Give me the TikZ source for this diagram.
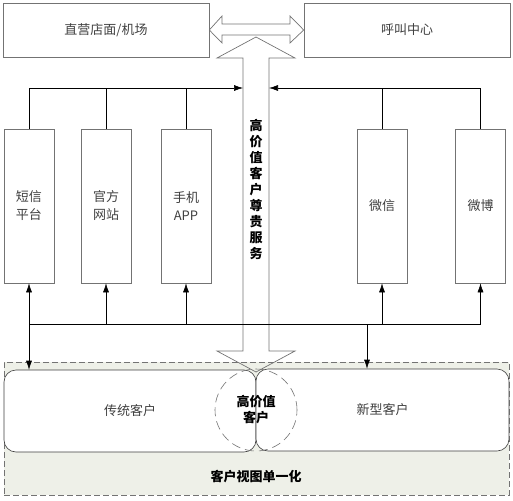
\documentclass[tikz,border=0pt]{standalone}
\usepackage{fontspec}
\setmainfont{Noto Sans CJK SC}
\usetikzlibrary{arrows.meta}

\begin{document}
\begin{tikzpicture}[x=1pt,y=-1pt,>={Latex[length=9pt,width=6pt]},line width=0.6pt]
\tikzstyle{every node}+=[inner sep=0pt]
\tikzstyle{txt}=[font=\fontsize{13}{18}\selectfont, text=black!75, align=center]
\tikzstyle{bold}=[font=\fontsize{13}{16}\selectfont\bfseries, text=black, align=center]
\tikzstyle{topbox}=[draw=black!55, minimum width=206pt, minimum height=54pt, txt]
\tikzstyle{tallbox}=[draw=black!55, minimum width=50pt, minimum height=154pt, txt]
\tikzstyle{cust}=[draw=black!75, fill=white, rounded corners=12pt, minimum height=82pt, txt]
\tikzstyle{fat}=[draw=black!55, line width=0.7pt]
\useasboundingbox (0,0) rectangle (513,500);
\node (view) [draw=black!55, dash pattern=on 6pt off 3pt, fill={rgb,255:red,238;green,240;blue,232}, minimum width=505pt, minimum height=133pt] at (256.5,428.5) {};
\node (viewtxt) [bold] at (256,477) {客户视图单一化};
\node (old) [cust, minimum width=252pt] at (130,411) {传统客户};
\node (new) [cust, minimum width=253pt] at (382.5,410) {新型客户};
\node (vip) [draw=black!55, dash pattern=on 9pt off 5pt, circle, minimum size=82pt, bold] at (256,410) {高价值\\客户};
\node (store) [topbox] at (106,30) {直营店面/机场};
\node (call) [topbox] at (407,30) {呼叫中心};
\node (sms) [tallbox] at (29,206) {短信\\平台};
\node (web) [tallbox] at (106,206) {官方\\网站};
\node (app) [tallbox] at (186,206) {手机\\APP};
\node (wechat) [tallbox] at (382,206) {微信};
\node (weibo) [tallbox] at (480.5,206) {微博};
\draw [fat] (store.east) -- (222,16) -- (222,24) -- (290,24) -- (290,16) -- (call.west) -- (290,43) -- (290,35) -- (222,35) -- (222,43) -- cycle;
\draw [fat] (256,37) -- (295,58) -- (269,58) -- (269,351) -- (295,351) -- (256,372) -- (217,351) -- (243,351) -- (243,58) -- (217,58) -- cycle;
\node (service) [bold] at (256,189) {高\\价\\值\\客\\户\\尊\\贵\\服\\务};
\coordinate (hubL) at (243,88);
\coordinate (hubR) at (269,88);
\coordinate (bus) at (0,324);
\coordinate (tap) at (367,324);
\draw [->] (sms.north) |- (hubL);
\draw (web.north) -- (web.north |- hubL);
\draw (app.north) -- (app.north |- hubL);
\draw [->] (weibo.north) |- (hubR);
\draw (wechat.north) -- (wechat.north |- hubR);
\draw (sms.south |- bus) -- (weibo.south |- bus);
\foreach \n in {sms,web,app,wechat,weibo}
  \draw [->] (\n.south |- bus) -- (\n.south);
\draw [->] (sms.south |- bus) -- (sms.south |- old.north);
\draw [->] (tap) -- (tap |- new.north);
\end{tikzpicture}
\end{document}
